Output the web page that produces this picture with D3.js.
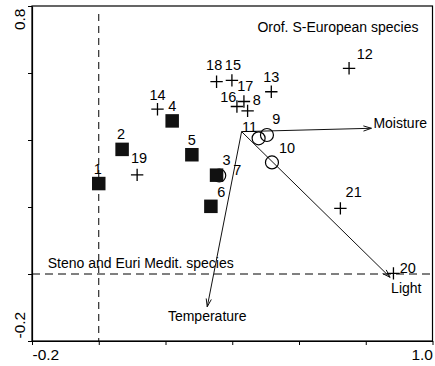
<!DOCTYPE html>
<html><head><meta charset="utf-8">
<script src="https://cdn.jsdelivr.net/npm/d3@7"></script>
<style>
body{margin:0;background:#fff;}
svg text{font-family:"Liberation Sans",Arial,sans-serif;fill:#000;}
</style></head>
<body><svg id="c" width="435" height="366"></svg>
<script>
// ---- data ----
const squareIds = ["1","2","3","4","5","6"];
const squareX   = [0.00, 0.07, 0.353, 0.22, 0.279, 0.336];
const squareY   = [0.27, 0.372, 0.295, 0.457, 0.356, 0.202];

const circleIds = ["7","9","10","11"];
const circleX   = [0.361, 0.504, 0.519, 0.479];
const circleY   = [0.294, 0.415, 0.333, 0.405];

const crossIds = ["8","12","13","14","15","16","17","18","19","20","21"];
const crossX   = [0.446, 0.75, 0.517, 0.176, 0.399, 0.414, 0.435, 0.353, 0.115, 0.883, 0.724];
const crossY   = [0.487, 0.614, 0.544, 0.492, 0.578, 0.50, 0.515, 0.574, 0.296, 0.002, 0.196];

const envNames = ["Moisture","Temperature","Light"];
const envX     = [0.817, 0.325, 0.873];
const envY     = [0.435, -0.098, -0.01];
const arrowOrigin = [0.428, 0.425];

const xTicks = [-0.2, 0, 0.2, 0.4, 0.6, 0.8, 1.0];
const yTicks = [-0.2, 0, 0.2, 0.4, 0.6, 0.8];
const xTickLabels = ["-0.2","","","","","","1.0"];
const yTickLabels = ["-0.2","","","","","0.8"];

const groupNotes = ["Orof. S-European species","Steno and Euri Medit. species"];
const noteX = [0.958, -0.153];
const noteY = [0.738, 0.034];

// ---- layout ----
const L = 32, R = 432.5, T = 6, B = 341;
const x = d3.scaleLinear().domain([-0.2, 1.0]).range([L, R]);
const y = d3.scaleLinear().domain([-0.2, 0.8]).range([B, T]);
const svg = d3.select("#c");

// label offsets in pixels (dx, dy of label centre from point centre)
const labelOff = {
  "1":[-1,-15],"2":[-1,-15],"3":[10,-15],"4":[0,-15],"5":[0,-15],"6":[10.5,-14.6],
  "7":[18,-5.5],"9":[9.4,-15.7],"10":[15,-15],"11":[-9,-11.6],
  "8":[9.3,-11],"12":[15.7,-14.3],"13":[0,-15],"14":[0,-14.3],"15":[1,-15.5],
  "16":[-8.7,-9.8],"17":[1.4,-15.8],"18":[-2.4,-16.7],"19":[2,-17],"20":[14.3,-5],"21":[13.3,-16]
};

// frame
svg.append("rect").attr("x",L).attr("y",T).attr("width",R-L).attr("height",B-T)
  .attr("fill","none").attr("stroke","#000").attr("stroke-width",1.2);

// axes
const xAxis = d3.axisBottom(x).tickValues(xTicks).tickSize(4).tickSizeOuter(0)
  .tickFormat((d,i)=>xTickLabels[i]);
const gx = svg.append("g").attr("transform",`translate(0,${B})`).call(xAxis);
gx.select(".domain").attr("stroke","#000").attr("stroke-width",1.2);
gx.selectAll("text").attr("font-size","15.5px").attr("dy","0.75em").attr("y",7)
  .attr("font-family","Liberation Sans, Arial, sans-serif")
  .attr("text-anchor",(d,i)=> i===0 ? "start" : (i===xTicks.length-1 ? "end":"middle"));

const yAxis = d3.axisLeft(y).tickValues(yTicks).tickSize(4).tickSizeOuter(0)
  .tickFormat((d,i)=>yTickLabels[i]);
const gy = svg.append("g").attr("transform",`translate(${L},0)`).call(yAxis);
gy.select(".domain").attr("stroke","#000").attr("stroke-width",1.2);
gy.selectAll(".tick text").each(function(d,i){
  const t = d3.select(this);
  t.attr("x",null).attr("dy",null).attr("font-size","15.5px")
   .attr("font-family","Liberation Sans, Arial, sans-serif")
   .attr("transform",`translate(${-7},0) rotate(-90)`)
   .attr("y",0)
   .attr("text-anchor", i===0 ? "start" : "end")
   .attr("x", i===0 ? -( B - y(d)) + 3 : -(T - y(d)) - 2);
});

// dashed reference lines
svg.append("line").attr("x1",x(0)).attr("x2",x(0)).attr("y1",T+8).attr("y2",B)
  .attr("stroke","#000").attr("stroke-dasharray","7,5");
svg.append("line").attr("x1",L).attr("x2",R).attr("y1",y(0)).attr("y2",y(0))
  .attr("stroke","#000").attr("stroke-dasharray","8,5");

// group notes
svg.selectAll(".note").data(groupNotes).join("text").attr("class","note")
  .attr("x",(d,i)=>x(noteX[i])).attr("y",(d,i)=>y(noteY[i])).attr("dy","0.35em")
  .attr("font-size","14px").attr("text-anchor",(d,i)=> i===0?"end":"start").text(d=>d);

// arrows
const ox = x(arrowOrigin[0]), oy = y(arrowOrigin[1]);
envNames.forEach((n,i)=>{
  const ex = x(envX[i]), ey = y(envY[i]);
  svg.append("line").attr("x1",ox).attr("y1",oy).attr("x2",ex).attr("y2",ey)
    .attr("stroke","#111").attr("stroke-width",1);
  const ang = Math.atan2(ey-oy, ex-ox), len = 8, w = 2.6;
  const bx = ex - len*Math.cos(ang), by = ey - len*Math.sin(ang);
  const px = -Math.sin(ang)*w, py = Math.cos(ang)*w;
  svg.append("path").attr("d",`M${bx+px},${by+py}L${ex},${ey}L${bx-px},${by-py}`)
    .attr("fill","none").attr("stroke","#111").attr("stroke-width",1);
});
const envLab = [[2,-5.6,"start"],[0,9.5,"middle"],[1,10.4,"start"]];
svg.selectAll(".env").data(envNames).join("text").attr("class","env")
  .attr("x",(d,i)=>x(envX[i])+envLab[i][0]).attr("y",(d,i)=>y(envY[i])+envLab[i][1])
  .attr("dy","0.35em").attr("font-size","14px").attr("text-anchor",(d,i)=>envLab[i][2]).text(d=>d);

// circles (under squares)
svg.selectAll(".cir").data(circleIds).join("circle").attr("class","cir")
  .attr("cx",(d,i)=>x(circleX[i])).attr("cy",(d,i)=>y(circleY[i])).attr("r",6.5)
  .attr("fill","none").attr("stroke","#000").attr("stroke-width",1.2);

// squares
const S = 13.5;
svg.selectAll(".sq").data(squareIds).join("rect").attr("class","sq")
  .attr("x",(d,i)=>x(squareX[i])-S/2).attr("y",(d,i)=>y(squareY[i])-S/2)
  .attr("width",S).attr("height",S).attr("fill","#111");

// crosses
const C = 6.2;
svg.selectAll(".cr").data(crossIds).join("path").attr("class","cr")
  .attr("d",(d,i)=>{const cx=x(crossX[i]), cy=y(crossY[i]);
    return `M${cx-C},${cy}H${cx+C}M${cx},${cy-C}V${cy+C}`;})
  .attr("stroke","#000").attr("stroke-width",1.3).attr("fill","none");

// point labels
const allIds = squareIds.concat(circleIds, crossIds);
const allX = squareX.concat(circleX, crossX);
const allY = squareY.concat(circleY, crossY);
svg.selectAll(".pl").data(allIds).join("text").attr("class","pl")
  .attr("x",(d,i)=>x(allX[i])+labelOff[d][0]).attr("y",(d,i)=>y(allY[i])+labelOff[d][1])
  .attr("dy","0.35em").attr("text-anchor","middle").attr("font-size","14.5px").text(d=>d);
</script></body></html>
